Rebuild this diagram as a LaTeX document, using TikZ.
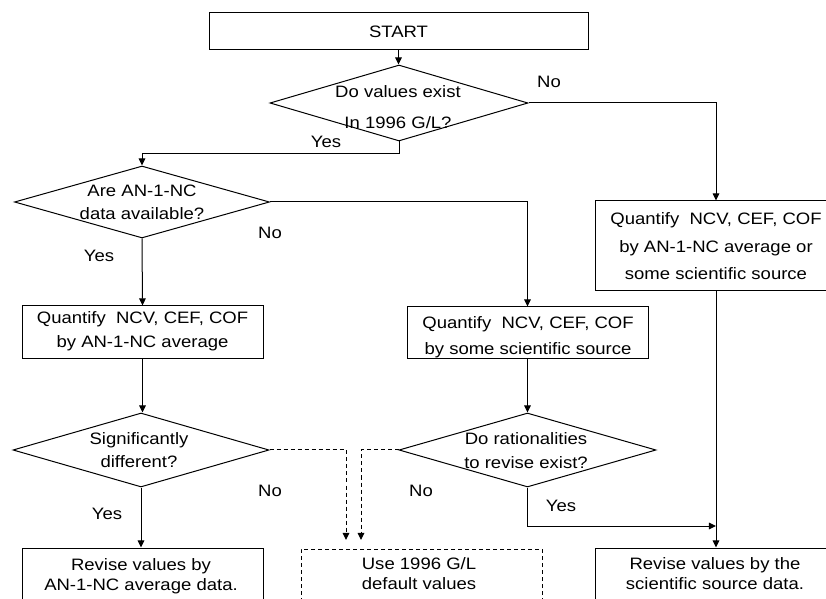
\documentclass[tikz,border=0pt]{standalone}
\usepackage{fontspec}
\setmainfont{Liberation Sans}[FakeStretch=1.12]
\usetikzlibrary{arrows.meta,shapes.geometric}
\begin{document}
\begin{tikzpicture}[x=0.75pt,y=-0.75pt,
  font=\fontsize{12.4}{18}\selectfont,
  ln/.style={line width=0.75pt, draw=black},
  arr/.style={ln, -{Triangle[length=5.4pt,width=5pt]}},
  dsh/.style={dash pattern=on 3pt off 2.25pt},
  box/.style={ln, rectangle, inner sep=0pt},
  dia/.style={ln, diamond, inner sep=0pt},
  txt/.style={align=center, inner sep=0pt},
  lab/.style={anchor=base, inner sep=0pt}]
\useasboundingbox (0,0) rectangle (826,599);
\clip (0,0) rectangle (826,599);

% boxes and diamonds
\node[box, minimum width={379*0.75pt}, minimum height={37*0.75pt}] (start) at (398.5,31.5) {START};

\node[dia, minimum width={258*0.75pt}, minimum height={76*0.75pt}] (d1) at (399,103) {};
\node[txt, font=\fontsize{12.4}{22.9}\selectfont] (t1) at (398,107) {Do values exist\\In 1996 G/L?};

\node[dia, minimum width={255*0.75pt}, minimum height={72*0.75pt}] (d2) at (142,202) {};
\node[txt, font=\fontsize{12.4}{17.3}\selectfont] (t2) at (142,202.5) {Are AN-1-NC\\data available?};

\node[box, minimum width={235*0.75pt}, minimum height={90*0.75pt}] (rbox) at (712.5,246) {};
\node[txt, font=\fontsize{12.4}{20.6}\selectfont] (t3) at (716,246.2) {Quantify\ \ NCV, CEF, COF\\by AN-1-NC average or\\some scientific source};

\node[box, minimum width={241*0.75pt}, minimum height={53*0.75pt}] (lbox) at (142.5,332.5) {};
\node[txt, font=\fontsize{12.4}{17.6}\selectfont] (t4) at (142.5,331) {Quantify\ \ NCV, CEF, COF\\by AN-1-NC average};

\node[box, minimum width={241*0.75pt}, minimum height={52*0.75pt}] (mbox) at (527.5,333) {};
\node[txt, font=\fontsize{12.4}{19.5}\selectfont] (t5) at (528,337.5) {Quantify\ \ NCV, CEF, COF\\by some scientific source};

\node[dia, minimum width={256*0.75pt}, minimum height={74*0.75pt}] (d3) at (141,450) {};
\node[txt, font=\fontsize{12.4}{17}\selectfont] (t6) at (139,450.3) {Significantly\\different?};

\node[dia, minimum width={257*0.75pt}, minimum height={74*0.75pt}] (d4) at (527.5,450) {};
\node[txt, font=\fontsize{12.4}{17.5}\selectfont] (t7) at (526,450.7) {Do rationalities\\to revise exist?};

\node[box, minimum width={241*0.75pt}, minimum height={92*0.75pt}] (bl) at (142.5,594) {};
\node[txt, font=\fontsize{12.4}{15}\selectfont] (t8) at (141,575.8) {Revise values by\\AN-1-NC average data.};

\node[box, dsh, minimum width={241*0.75pt}, minimum height={92*0.75pt}] (bm) at (421.5,595) {};
\node[txt, font=\fontsize{12.4}{15}\selectfont] (t9) at (419,574) {Use 1996 G/L\\default values};

\node[box, minimum width={235*0.75pt}, minimum height={92*0.75pt}] (br) at (712.5,594) {};
\node[txt, font=\fontsize{12.4}{15}\selectfont] (t10) at (715,574) {Revise values by the\\scientific source data.};

% helper coordinates
\coordinate (rx) at (716,0);
\coordinate (n1) at (346,540);
\coordinate (n2) at (361,540);
\coordinate (jn) at (716,526);

% connectors
\draw[arr] (start.south) -- (start.south |- d1.north);
\draw[arr] (d1.south) -- ++(0,12) -| (d2.north);
\draw[arr] (d1.east) -| (rx |- rbox.north);
\draw[arr] (d2.south) -- (lbox.north);
\draw[arr] (d2.east) -| (mbox.north);
\draw[arr] (lbox.south) -- (lbox.south |- d3.north);
\draw[arr] (mbox.south) -- (mbox.south |- d4.north);
\draw[arr] (d3.south) -- (d3.south |- bl.north);
\draw[arr, dsh] (d3.east) -| (n1);
\draw[arr, dsh] (d4.west) -| (n2);
\draw[arr] (d4.south) |- (jn);
\draw[arr] (rx |- rbox.south) -- (rx |- br.north);

% labels
\node[lab] (l1) at (549,88) {No};
\node[lab] (l2) at (326,148) {Yes};
\node[lab] (l3) at (270,239) {No};
\node[lab] (l4) at (99,262) {Yes};
\node[lab] (l5) at (270,496) {No};
\node[lab] (l6) at (107,519) {Yes};
\node[lab] (l7) at (421,496) {No};
\node[lab] (l8) at (561,511) {Yes};
\end{tikzpicture}
\end{document}
